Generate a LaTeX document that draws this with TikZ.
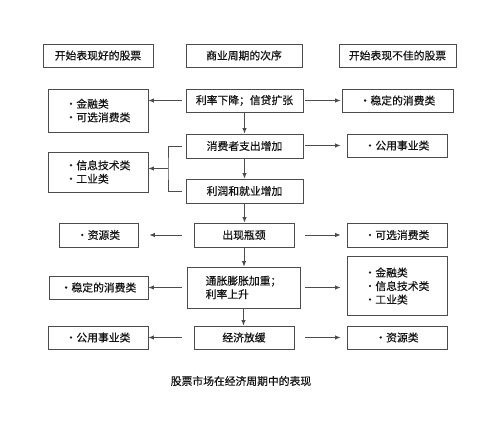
\documentclass[tikz,border=0pt]{standalone}
\usepackage{fontspec}
\setmainfont{Noto Sans CJK SC}[FakeBold=0.5]
\usetikzlibrary{arrows.meta}
\definecolor{boxline}{gray}{0.3}
\definecolor{txt}{gray}{0.08}
\tikzset{
  box/.style={draw=boxline, line width=0.9pt, text=txt, inner sep=0pt,
    font=\fontsize{10.8}{13.5}\selectfont, align=left},
  arr/.style={draw=boxline, line width=0.8pt, -{Latex[length=5.5pt,width=4.5pt]}},
  ln/.style={draw=boxline, line width=0.8pt},
}
\newcommand{\bul}{·}
\begin{document}
\begin{tikzpicture}[x=1pt,y=-1pt]
\useasboundingbox (0,0) rectangle (499,422);
% headers
\node[box, minimum width=110, minimum height=23] (hL) at (98,55.5) {开始表现好的股票};
\node[box, minimum width=116, minimum height=23] (hC) at (244,55.5) {商业周期的次序};
\node[box, minimum width=117, minimum height=23] (hR) at (397.5,55.5) {开始表现不佳的股票};
% center column
\node[box, minimum width=117, minimum height=23] (c1) at (244.5,100.5) {利率下降；信贷扩张};
\node[box, minimum width=117, minimum height=24] (c2) at (244.5,146) {消费者支出增加};
\node[box, minimum width=117, minimum height=24] (c3) at (244.5,191) {利润和就业增加};
\node[box, minimum width=100, minimum height=24] (c4) at (244,235) {出现瓶颈};
\node[box, minimum width=113, minimum height=41] (c5) at (243.5,287.5) {通胀膨胀加重；\\利率上升};
\node[box, minimum width=100, minimum height=23] (c6) at (244,337.5) {经济放缓};
% left column
\node[box, minimum width=100, minimum height=43] (l1) at (98,110.5) {\bul 金融类\\\bul 可选消费类};
\node[box, minimum width=100, minimum height=40] (l2) at (98,172) {\bul 信息技术类\\\bul 工业类};
\node[box, minimum width=79, minimum height=24] (l3) at (98.5,235) {\bul 资源类};
\node[box, minimum width=99, minimum height=23] (l4) at (98.5,287.5) {\bul 稳定的消费类};
\node[box, minimum width=100, minimum height=23] (l5) at (98,337.5) {\bul 公用事业类};
% right column
\node[box, minimum width=111, minimum height=23] (r1) at (397.5,100.5) {\bul 稳定的消费类};
\node[box, minimum width=100, minimum height=23] (r2) at (397,145.5) {\bul 公用事业类};
\node[box, minimum width=100, minimum height=24] (r3) at (397,235) {\bul 可选消费类};
\node[box, minimum width=100, minimum height=59] (r4) at (397,286) {\bul 金融类\\\bul 信息技术类\\\bul 工业类};
\node[box, minimum width=100, minimum height=23] (r5) at (397,337.5) {\bul 资源类};
% caption
\node[text=txt, font=\fontsize{10.8}{13}\selectfont, inner sep=0pt] (cap) at (241,381) {股票市场在经济周期中的表现};
% vertical arrows
\draw[arr] (c1.south) -- (c1.south |- c2.north);
\draw[arr] (c2.south) -- (c2.south |- c3.north);
\draw[arr] (c3.south) -- (c3.south |- c4.north);
\draw[arr] (c4.south) -- (c4.south |- c5.north);
\draw[arr] (c5.south) -- (c5.south |- c6.north);
% left arrows
\draw[arr, shorten <=4pt] (c1.west) -- (c1.west -| l1.east);
\coordinate (bk) at (168,168.5);
\draw[ln] ([xshift=-4pt]c2.west) -| (bk) |- ([xshift=-4pt]c3.west);
\draw[arr] (bk) -- (bk -| l2.east);
\draw[arr, shorten <=12pt, shorten >=11pt] (c4.west) -- (l3.east);
\draw[arr, shorten <=5pt] (c5.west) -- (l4.east);
\draw[arr, shorten <=12pt] (c6.west) -- (l5.east);
% right arrows
\draw[arr, shorten <=2pt, shorten >=1pt] (c1.east) -- (c1.east -| r1.west);
\draw[arr, shorten <=2pt, shorten >=6pt] (c2.east |- r2.west) -- (r2.west);
\draw[arr, shorten <=11pt, shorten >=6pt] (c4.east) -- (r3.west);
\draw[arr, shorten <=5pt, shorten >=6pt] (c5.east) -- (c5.east -| r4.west);
\draw[arr, shorten <=11pt, shorten >=6pt] (c6.east) -- (r5.west);
\end{tikzpicture}
\end{document}
